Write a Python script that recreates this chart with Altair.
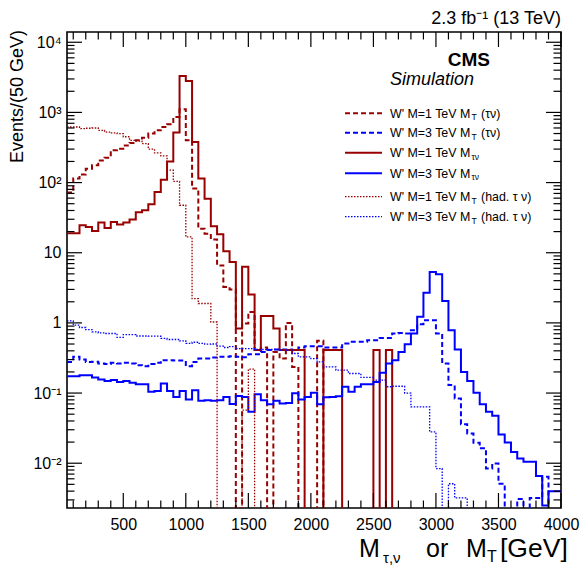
import altair as alt
import pandas as pd

# ---------------- data (events per 50 GeV bin, bins from 50 to 4000 GeV) ----------------
bin_edges = list(range(50, 4001, 50))  # 80 edges -> 79 bins

m1_mtaunu = [19, 19, 24.6, 23.3, 20.4, 27, 22.6, 27.5, 25.2, 27, 29.7, 37.7, 40.3, 49, 73.5, 110, 200, 516,
             3300, 2800, 378, 114, 59, 23.8, 18.4, 10.5, 7.4, 0.83, 6.3, 2.54, 0.41, 1.25, 1.25, 0.83, 0.41,
             0.41, 0.41, 0.41, 0, 0, 0, 0.41, 0.41, 0.41, 0, 0, 0, 0, 0, 0.41, 0, 0.41, 0, 0, 0, 0, 0, 0,
             0, 0, 0, 0, 0, 0, 0, 0, 0, 0, 0, 0, 0, 0, 0, 0, 0, 0, 0, 0, 0]
m1_mt = [72, 114, 130, 158, 176, 207, 226, 289, 304, 339, 366, 400, 437, 500, 555, 620, 680, 860,
         1110, 400, 82, 22, 18.7, 15.4, 6.6, 3.26, 2.99, 0, 0.98, 1.43, 0.41, 0.446, 0, 0.386, 0.31,
         1.0, 0.236, 0, 0, 0, 0.555, 0, 0, 0, 0, 0, 0, 0, 0, 0, 0, 0, 0, 0, 0, 0, 0, 0, 0, 0, 0, 0,
         0, 0, 0, 0, 0, 0, 0, 0, 0, 0, 0, 0, 0, 0, 0, 0, 0]
m1_mt_had = [620, 620, 588, 595, 600, 556, 525, 510, 500, 450, 400, 390, 359, 300, 265, 240, 150, 104,
             47.5, 16.8, 2.22, 1.89, 1.89, 1.03, 0, 0, 0, 0, 0.057, 0.22, 0, 0, 0, 0, 0, 0, 0, 0, 0, 0,
             0, 0, 0, 0, 0, 0, 0, 0, 0, 0, 0, 0, 0, 0, 0, 0, 0, 0, 0, 0, 0, 0, 0, 0, 0, 0, 0, 0, 0, 0,
             0, 0, 0, 0, 0, 0, 0, 0, 0]
m3_mtaunu = [0.174, 0.174, 0.180, 0.180, 0.167, 0.156, 0.149, 0.153, 0.144, 0.149, 0.14, 0.134, 0.134,
             0.104, 0.107, 0.137, 0.107, 0.088, 0.107, 0.081, 0.110, 0.078, 0.079, 0.078, 0.079, 0.088,
             0.070, 0.091, 0.088, 0.054, 0.096, 0.079, 0.069, 0.0775, 0.071, 0.072, 0.099, 0.081, 0.088,
             0.101, 0.0695, 0.087, 0.088, 0.090, 0.123, 0.104, 0.123, 0.134, 0.134, 0.144, 0.194, 0.264,
             0.294, 0.386, 0.497, 0.706, 1.22, 2.68, 5.33, 4.94, 2.06, 0.787, 0.418, 0.20, 0.149, 0.101,
             0.0695, 0.054, 0.0473, 0.0257, 0.0198, 0.0145, 0.0117, 0.0105, 0.0105, 0.00655, 0.0025,
             0.004, 0.004]
m3_mt = [0.278, 0.328, 0.30, 0.278, 0.28, 0.264, 0.26, 0.27, 0.264, 0.27, 0.264, 0.25, 0.242, 0.26,
         0.27, 0.294, 0.294, 0.29, 0.29, 0.242, 0.278, 0.31, 0.31, 0.32, 0.328, 0.328, 0.335, 0.328,
         0.325, 0.358, 0.358, 0.386, 0.41, 0.418, 0.418, 0.418, 0.41, 0.446, 0.466, 0.466, 0.466,
         0.446, 0.446, 0.446, 0.51, 0.537, 0.537, 0.537, 0.567, 0.567, 0.61, 0.61, 0.706, 0.72, 0.706,
         0.787, 0.96, 1.09, 1.09, 0.706, 0.264, 0.13, 0.0836, 0.036, 0.0265, 0.0195, 0.0163, 0.0084,
         0.0099, 0.0051, 0, 0, 0.0031, 0, 0.0032, 0.0032, 0.0064, 0, 0]
m3_mt_had = [1.07, 0.93, 0.86, 0.80, 0.745, 0.72, 0.706, 0.706, 0.62, 0.68, 0.68, 0.65, 0.65, 0.646,
             0.646, 0.60, 0.58, 0.58, 0.555, 0.51, 0.53, 0.51, 0.497, 0.50, 0.466, 0.446, 0.46, 0.43,
             0.43, 0.43, 0.418, 0.418, 0.418, 0.418, 0.41, 0.41, 0.366, 0.328, 0.328, 0.31, 0.278,
             0.236, 0.236, 0.212, 0.212, 0.19, 0.19, 0.167, 0.167, 0.153, 0.153, 0.123, 0.125, 0.125,
             0.10, 0.0635, 0.0635, 0.0635, 0.028, 0.0084, 0, 0.0051, 0.0032, 0.0032, 0, 0, 0, 0, 0, 0,
             0, 0, 0, 0, 0, 0, 0, 0, 0]

x_major = [500, 1000, 1500, 2000, 2500, 3000, 3500, 4000]
x_minor = [v for v in range(100, 4000, 100) if v % 500 != 0]
y_major = [0.01, 0.1, 1, 10, 100, 1000, 10000]
y_minor = [m * d for d in [0.001, 0.01, 0.1, 1, 10, 100, 1000] for m in range(2, 10)
           if 0.0023 <= m * d <= 14000]

RED = "#990000"
BLUE = "#0000ff"
FONT = "Liberation Sans"
W, H = 494, 476

series = [
    ("m1_mt", m1_mt, RED, [5, 3], 2.0, "W' M=1 TeV M", "T", "(τν)"),
    ("m3_mt", m3_mt, BLUE, [5, 3], 2.0, "W' M=3 TeV M", "T", "(τν)"),
    ("m1_mtaunu", m1_mtaunu, RED, [], 2.0, "W' M=1 TeV M", "τν", ""),
    ("m3_mtaunu", m3_mtaunu, BLUE, [], 2.0, "W' M=3 TeV M", "τν", ""),
    ("m1_mt_had", m1_mt_had, RED, [1.5, 1.5], 1.3, "W' M=1 TeV M", "T", "(had. τ ν)"),
    ("m3_mt_had", m3_mt_had, BLUE, [1.5, 1.5], 1.3, "W' M=3 TeV M", "T", "(had. τ ν)"),
]

xs = alt.Scale(domain=[50, 4000], nice=False, zero=False)
ys = alt.Scale(type="log", domain=[0.0023, 14000], nice=False)

x_axis = alt.Axis(values=x_major, title=None, ticks=False, tickSize=0, domain=False, grid=False,
                  labelFontSize=16, labelFont=FONT, labelColor="black", labelPadding=8,
                  labelFlush=False, labelOverlap=False, format="d")
y_label_expr = ("datum.value < 0.05 ? '10⁻²' : datum.value < 0.5 ? '10⁻¹' : datum.value < 5 ? '1' : "
                "datum.value < 50 ? '10' : datum.value < 500 ? '10²' : datum.value < 5000 ? '10³' : '10⁴'")
y_axis = alt.Axis(values=y_major, title=None, ticks=False, tickSize=0, domain=False, grid=False,
                  labelFontSize=16, labelFont=FONT, labelColor="black", labelPadding=6,
                  labelExpr=y_label_expr, labelOverlap=False, labelFlush=False)

X = alt.X("x:Q", scale=xs, axis=x_axis)
Y = alt.Y("y:Q", scale=ys, axis=y_axis)


def step_table(vals):
    rows = []
    for i, v in enumerate(vals):
        vv = v if v > 0 else 1e-5
        rows.append({"o": 2 * i, "x": bin_edges[i], "y": vv})
        rows.append({"o": 2 * i + 1, "x": bin_edges[i + 1], "y": vv})
    return pd.DataFrame(rows)


layers = []
for name, vals, col, dash, sw, _, _, _ in series:
    kw = dict(clip=True, color=col, strokeWidth=sw, strokeCap="butt", strokeJoin="miter")
    if dash:
        kw["strokeDash"] = dash
    layers.append(alt.Chart(step_table(vals)).mark_line(**kw).encode(x=X, y=Y, order="o:Q"))

# inward ticks on all four sides
xt_major = pd.DataFrame({"x": x_major})
xt_minor = pd.DataFrame({"x": x_minor})
yt_major = pd.DataFrame({"y": y_major})
yt_minor = pd.DataFrame({"y": y_minor})
tick = dict(color="black", strokeWidth=1.2)
layers += [
    alt.Chart(xt_major).mark_rule(**tick).encode(x=X, y=alt.value(H), y2=alt.value(H - 15)),
    alt.Chart(xt_minor).mark_rule(**tick).encode(x=X, y=alt.value(H), y2=alt.value(H - 7.5)),
    alt.Chart(xt_major).mark_rule(**tick).encode(x=X, y=alt.value(0), y2=alt.value(15)),
    alt.Chart(xt_minor).mark_rule(**tick).encode(x=X, y=alt.value(0), y2=alt.value(7.5)),
    alt.Chart(yt_major).mark_rule(**tick).encode(y=Y, x=alt.value(0), x2=alt.value(15)),
    alt.Chart(yt_minor).mark_rule(**tick).encode(y=Y, x=alt.value(0), x2=alt.value(7.5)),
    alt.Chart(yt_major).mark_rule(**tick).encode(y=Y, x=alt.value(W), x2=alt.value(W - 15)),
    alt.Chart(yt_minor).mark_rule(**tick).encode(y=Y, x=alt.value(W), x2=alt.value(W - 7.5)),
]

one = pd.DataFrame({"k": [0]})


def label(text, x, y, size, align="left", weight="normal", style="normal", angle=0, baseline="alphabetic"):
    return alt.Chart(one).mark_text(text=text, font=FONT, fontSize=size, align=align, baseline=baseline,
                                    fontWeight=weight, fontStyle=style, angle=angle, color="black"
                                    ).encode(x=alt.value(x), y=alt.value(y))


# legend
legend_rows = [81.3, 100.7, 120.7, 141.3, 164.7, 184.7]
for (name, vals, col, dash, sw, main, sub, suffix), ly in zip(series, legend_rows):
    kw = dict(color=col, strokeWidth=sw, strokeCap="butt")
    if dash:
        kw["strokeDash"] = dash
    layers.append(alt.Chart(one).mark_rule(**kw).encode(x=alt.value(278), x2=alt.value(315), y=alt.value(ly)))
    layers.append(label(main, 323, ly + 4.3, 12.4))
    layers.append(label(sub, 404.5, ly + 7, 8.5))
    if suffix:
        layers.append(label(suffix, 414, ly + 4.3, 12.4))

# texts
layers += [
    label("2.3 fb⁻¹ (13 TeV)", 494, -8, 18, align="right"),
    label("CMS", 423, 34, 19, align="right", weight="bold"),
    label("Simulation", 407, 53, 18, align="right", style="italic"),
    label("Events/(50 GeV)", -49, -2, 18, align="right", angle=270, baseline="middle"),
    label("M", 292, 525, 25),
    label("τ,ν", 316, 531, 15),
    label("or", 359, 525, 25),
    label("M", 399, 525, 25),
    label("T", 420, 530, 16),
    label("[GeV]", 433, 525, 26.5),
]

chart = alt.layer(*layers).properties(
    width=W, height=H,
    autosize=alt.AutoSizeParams(type="none"),
    padding={"left": 67, "top": 32, "right": 20, "bottom": 59},
    background="white",
).configure_view(stroke="black", strokeWidth=1.6)

chart.save("out.html", embed_options={"renderer": "svg", "actions": False})
